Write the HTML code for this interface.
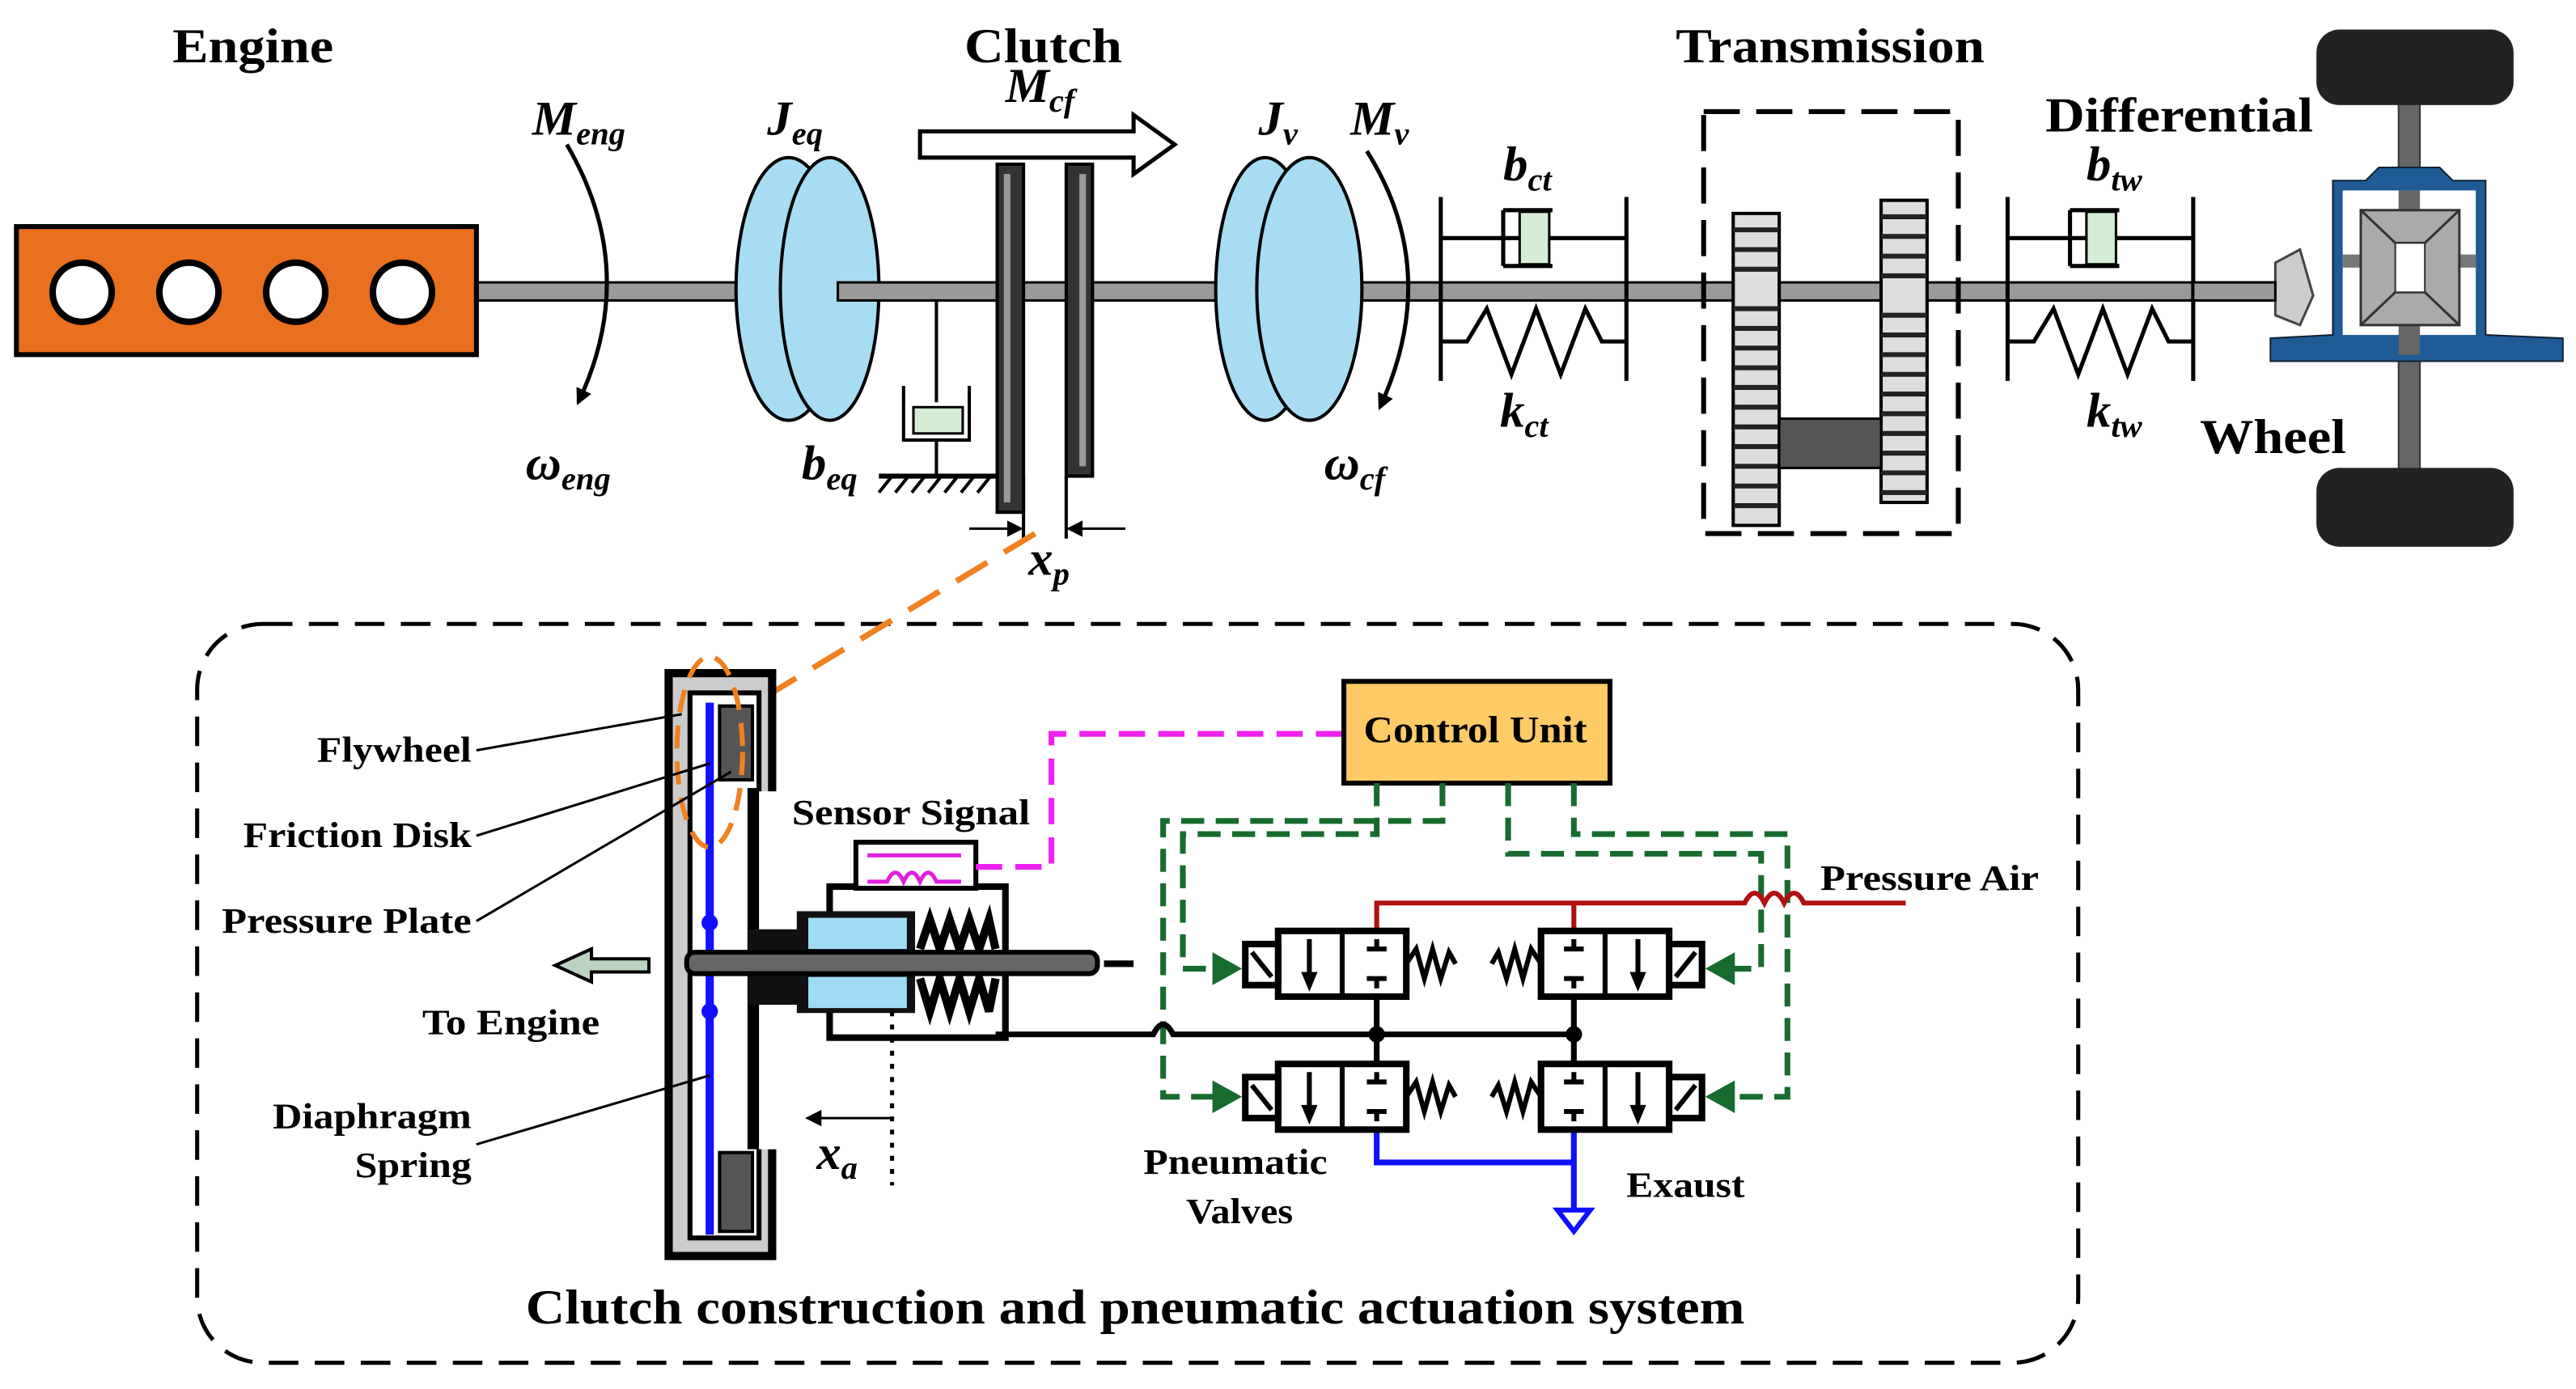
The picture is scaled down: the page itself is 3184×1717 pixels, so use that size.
<!DOCTYPE html>
<html><head><meta charset="utf-8"><style>
html,body{margin:0;padding:0;background:#fff}
svg{display:block}
text{font-family:"Liberation Serif",serif;font-weight:bold;fill:#000}
.it{font-style:italic}
</style></head><body>
<svg width="3184" height="1717" viewBox="0 0 1568 846" preserveAspectRatio="none" xmlns="http://www.w3.org/2000/svg">
<defs>
<marker id="ah" markerWidth="10" markerHeight="10" refX="8" refY="5" orient="auto" markerUnits="userSpaceOnUse"><path d="M0,0 L10,5 L0,10 z" fill="#000"/></marker>
<marker id="oh" markerWidth="22" markerHeight="18" refX="20" refY="9" orient="auto" markerUnits="userSpaceOnUse"><path d="M0,0 L22,9 L0,18 z" fill="#f08020"/></marker>
</defs>

<rect x="290" y="172" width="1095" height="11" fill="#9a9a9a" stroke="#000" stroke-width="1.5"/>

<!-- Engine -->
<text x="105" y="38" font-size="30" textLength="98" lengthAdjust="spacingAndGlyphs">Engine</text>
<rect x="10" y="138" width="280" height="78" fill="#e8701e" stroke="#000" stroke-width="3"/>
<g fill="#fff" stroke="#000" stroke-width="4">
<circle cx="50" cy="178" r="18"/><circle cx="115" cy="178" r="18"/><circle cx="180" cy="178" r="18"/><circle cx="245" cy="178" r="18"/></g>

<path d="M345,88 Q390,165 352,245" fill="none" stroke="#000" stroke-width="2.5" marker-end="url(#ah)"/>
<text x="324" y="82" font-size="30" class="it">M<tspan font-size="20" dy="6">eng</tspan></text>
<text x="320" y="292" font-size="30" class="it">ω<tspan font-size="20" dy="6">eng</tspan></text>

<ellipse cx="480" cy="176" rx="32" ry="80" fill="#a8dcf2" stroke="#000" stroke-width="2"/>
<ellipse cx="505" cy="176" rx="30" ry="80" fill="#a8dcf2" stroke="#000" stroke-width="2"/>
<rect x="510" y="172" width="100" height="11" fill="#9a9a9a" stroke="#000" stroke-width="1.5"/>
<text x="467" y="82" font-size="30" class="it">J<tspan font-size="20" dy="6">eq</tspan></text>
<line x1="570" y1="183" x2="570" y2="245" stroke="#000" stroke-width="2"/>
<rect x="556" y="248" width="30" height="16" fill="#d4ecd4" stroke="#000" stroke-width="1.5"/>
<path d="M550,235 L550,268 L590,268 L590,235" fill="none" stroke="#000" stroke-width="2"/>
<line x1="570" y1="268" x2="570" y2="290" stroke="#000" stroke-width="2"/>
<line x1="535" y1="290" x2="610" y2="290" stroke="#000" stroke-width="3"/>
<path d="M535,300 L543,290 M545,300 L553,290 M555,300 L563,290 M565,300 L573,290 M575,300 L583,290 M585,300 L593,290 M595,300 L603,290" stroke="#000" stroke-width="2"/>
<text x="488" y="292" font-size="30" class="it">b<tspan font-size="20" dy="6">eq</tspan></text>

<text x="587" y="38" font-size="30" textLength="96" lengthAdjust="spacingAndGlyphs">Clutch</text>
<path d="M560,80 L690,80 L690,70 L715,88 L690,106 L690,96 L560,96 z" fill="#fff" stroke="#000" stroke-width="2.5"/>
<text x="612" y="62" font-size="30" class="it">M<tspan font-size="20" dy="6">cf</tspan></text>
<rect x="607" y="100" width="16" height="212" fill="#333" stroke="#000" stroke-width="2"/>
<rect x="611" y="106" width="4" height="200" fill="#999"/>
<rect x="649" y="100" width="16" height="190" fill="#333" stroke="#000" stroke-width="2"/>
<rect x="657" y="106" width="4" height="178" fill="#999"/>
<line x1="623" y1="290" x2="623" y2="328" stroke="#000" stroke-width="2"/>
<line x1="649" y1="290" x2="649" y2="328" stroke="#000" stroke-width="2"/>
<line x1="590" y1="322" x2="621" y2="322" stroke="#000" stroke-width="1.5" marker-end="url(#ah)"/>
<line x1="685" y1="322" x2="651" y2="322" stroke="#000" stroke-width="1.5" marker-end="url(#ah)"/>
<text x="626" y="350" font-size="30" class="it">x<tspan font-size="20" dy="6">p</tspan></text>

<ellipse cx="770" cy="176" rx="30" ry="80" fill="#a8dcf2" stroke="#000" stroke-width="2"/>
<ellipse cx="797" cy="176" rx="32" ry="80" fill="#a8dcf2" stroke="#000" stroke-width="2"/>
<text x="766" y="82" font-size="30" class="it">J<tspan font-size="20" dy="6">v</tspan></text>
<path d="M832,92 Q878,165 840,248" fill="none" stroke="#000" stroke-width="2.5" marker-end="url(#ah)"/>
<text x="822" y="82" font-size="30" class="it">M<tspan font-size="20" dy="6">v</tspan></text>
<text x="806" y="292" font-size="30" class="it">ω<tspan font-size="20" dy="6">cf</tspan></text>

<g stroke="#000" stroke-width="2.5" fill="none">
<line x1="877" y1="120" x2="877" y2="232"/><line x1="990" y1="120" x2="990" y2="232"/>
<path d="M877,145 L925,145 M915,128 L915,162 M915,128 L945,128 M915,162 L945,162 M940,145 L990,145"/>
<path d="M877,208 L893,208 L905,188 L920,228 L935,188 L950,228 L965,188 L975,208 L990,208"/>
<line x1="1222" y1="120" x2="1222" y2="232"/><line x1="1335" y1="120" x2="1335" y2="232"/>
<path d="M1222,145 L1270,145 M1260,128 L1260,162 M1260,128 L1290,128 M1260,162 L1290,162 M1285,145 L1335,145"/>
<path d="M1222,208 L1238,208 L1250,188 L1265,228 L1280,188 L1295,228 L1310,188 L1320,208 L1335,208"/>
</g>
<rect x="925" y="129" width="18" height="32" fill="#d4ecd4" stroke="#000" stroke-width="1.5"/>
<rect x="1270" y="129" width="18" height="32" fill="#d4ecd4" stroke="#000" stroke-width="1.5"/>
<text x="915" y="110" font-size="30" class="it">b<tspan font-size="20" dy="6">ct</tspan></text>
<text x="913" y="260" font-size="30" class="it">k<tspan font-size="20" dy="6">ct</tspan></text>
<text x="1270" y="110" font-size="30" class="it">b<tspan font-size="20" dy="6">tw</tspan></text>
<text x="1270" y="260" font-size="30" class="it">k<tspan font-size="20" dy="6">tw</tspan></text>

<text x="1020" y="38" font-size="30" textLength="188" lengthAdjust="spacingAndGlyphs">Transmission</text>
<rect x="1037" y="68" width="155" height="257" fill="none" stroke="#000" stroke-width="3" stroke-dasharray="22,10"/>
<rect x="1055" y="130" width="28" height="190" fill="#ddd" stroke="#000" stroke-width="2"/>
<rect x="1145" y="122" width="28" height="184" fill="#ddd" stroke="#000" stroke-width="2"/>
<g stroke="#222" stroke-width="3">
<path d="M1055,140 h28 M1055,152 h28 M1055,164 h28 M1055,188 h28 M1055,200 h28 M1055,212 h28 M1055,224 h28 M1055,236 h28 M1055,248 h28 M1055,260 h28 M1055,272 h28 M1055,284 h28 M1055,296 h28 M1055,308 h28"/>
<path d="M1145,132 h28 M1145,144 h28 M1145,156 h28 M1145,168 h28 M1145,192 h28 M1145,204 h28 M1145,216 h28 M1145,228 h28 M1145,240 h28 M1145,252 h28 M1145,264 h28 M1145,276 h28 M1145,288 h28 M1145,300 h28"/>
</g>
<rect x="1083" y="255" width="62" height="30" fill="#555" stroke="#000" stroke-width="1.5"/>

<text x="1245" y="80" font-size="30" textLength="163" lengthAdjust="spacingAndGlyphs">Differential</text>
<text x="1339" y="276" font-size="30" textLength="89" lengthAdjust="spacingAndGlyphs">Wheel</text>
<rect x="1460" y="55" width="13" height="235" fill="#666" stroke="#333" stroke-width="1"/>
<rect x="1410" y="18" width="120" height="46" rx="14" fill="#222"/>
<rect x="1410" y="285" width="120" height="48" rx="14" fill="#222"/>
<path d="M1420,204 L1420,110 L1440,110 L1448,102 L1485,102 L1493,110 L1513,110 L1513,204 L1560,206 L1560,220 L1382,220 L1382,206 z" fill="#1f5b95" stroke="#123" stroke-width="1"/>
<rect x="1426" y="116" width="81" height="88" fill="#fff"/>
<rect x="1460" y="116" width="13" height="100" fill="#666"/>
<rect x="1426" y="155" width="81" height="8" fill="#777"/>
<rect x="1437" y="128" width="60" height="70" fill="#aaa" stroke="#333" stroke-width="1.5"/>
<path d="M1437,128 L1458,148 L1476,148 L1497,128 M1437,198 L1458,178 L1476,178 L1497,198" fill="none" stroke="#333" stroke-width="1.5"/>
<rect x="1458" y="148" width="18" height="30" fill="#fff" stroke="#333"/>
<path d="M1385,160 L1400,152 L1408,180 L1400,198 L1385,192 z" fill="#ccc" stroke="#444" stroke-width="1.5"/>
<rect x="1335" y="172" width="50" height="11" fill="#9a9a9a" stroke="#000" stroke-width="1.5"/>

<rect x="120" y="380" width="1145" height="450" rx="40" fill="none" stroke="#000" stroke-width="2.5" stroke-dasharray="18,10"/>
<text x="320" y="806" font-size="30" textLength="742" lengthAdjust="spacingAndGlyphs">Clutch construction and pneumatic actuation system</text>

<line x1="630" y1="325" x2="440" y2="440" stroke="#f08020" stroke-width="3.5" stroke-dasharray="22,12" marker-end="url(#oh)"/>

<rect x="407" y="410" width="63" height="355" fill="#ccc" stroke="#000" stroke-width="5"/>
<rect x="420" y="422" width="42" height="332" fill="#fff" stroke="#000" stroke-width="3"/>
<rect x="462" y="482" width="12" height="218" fill="#fff"/>
<line x1="458" y1="480" x2="458" y2="700" stroke="#000" stroke-width="6"/>
<rect x="438" y="430" width="20" height="45" fill="#555" stroke="#000" stroke-width="2"/>
<rect x="438" y="702" width="20" height="48" fill="#555" stroke="#000" stroke-width="2"/>
<line x1="432" y1="428" x2="432" y2="752" stroke="#1010ff" stroke-width="5"/>
<circle cx="432" cy="562" r="5" fill="#1010ff"/><circle cx="432" cy="616" r="5" fill="#1010ff"/>
<ellipse cx="432" cy="458" rx="20" ry="58" fill="none" stroke="#f08020" stroke-width="3" stroke-dasharray="14,8"/>

<rect x="455" y="566" width="32" height="46" fill="#111"/>
<rect x="505" y="540" width="107" height="92" fill="#fff" stroke="#000" stroke-width="4"/>
<rect x="485" y="555" width="72" height="62" fill="#111"/>
<rect x="492" y="559" width="60" height="19" fill="#9fdcf4"/>
<rect x="492" y="595" width="60" height="19" fill="#9fdcf4"/>
<path d="M560,578 L566,560 L572,578 L578,560 L584,578 L590,560 L596,578 L602,560 L606,578 M560,596 L566,616 L572,596 L578,616 L584,596 L590,616 L596,596 L602,616 L606,596" fill="none" stroke="#000" stroke-width="5"/>
<rect x="418" y="580" width="250" height="13" rx="5" fill="#666" stroke="#000" stroke-width="3"/>
<line x1="672" y1="587" x2="690" y2="587" stroke="#000" stroke-width="4"/>
<rect x="521" y="513" width="73" height="28" fill="#fff" stroke="#000" stroke-width="3"/>
<path d="M528,521 L585,521 M528,537 L540,537 Q545,526 550,537 Q555,526 560,537 Q565,526 570,537 L585,537" fill="none" stroke="#e020e0" stroke-width="2.5"/>
<path d="M594,528 L640,528 L640,447 L818,447" fill="none" stroke="#f020f0" stroke-width="3.5" stroke-dasharray="16,8"/>
<text x="482" y="502" font-size="22" textLength="145" lengthAdjust="spacingAndGlyphs">Sensor Signal</text>
<path d="M395,584 L360,584 L360,578 L338,588 L360,598 L360,592 L395,592 z" fill="#bcd3c2" stroke="#000" stroke-width="2"/>
<line x1="543" y1="616" x2="543" y2="722" stroke="#000" stroke-width="2.5" stroke-dasharray="3,5"/>
<line x1="543" y1="681" x2="492" y2="681" stroke="#000" stroke-width="1.5" marker-end="url(#ah)"/>
<text x="497" y="712" font-size="30" class="it">x<tspan font-size="20" dy="6">a</tspan></text>

<g font-size="22">
<text x="193" y="464" textLength="94" lengthAdjust="spacingAndGlyphs">Flywheel</text>
<text x="148" y="516" textLength="139" lengthAdjust="spacingAndGlyphs">Friction Disk</text>
<text x="135" y="568" textLength="152" lengthAdjust="spacingAndGlyphs">Pressure Plate</text>
<text x="257" y="630" textLength="108" lengthAdjust="spacingAndGlyphs">To Engine</text>
<text x="166" y="687" textLength="121" lengthAdjust="spacingAndGlyphs">Diaphragm</text>
<text x="216" y="717" textLength="71" lengthAdjust="spacingAndGlyphs">Spring</text>
</g>
<g stroke="#000" stroke-width="1.5">
<line x1="290" y1="457" x2="415" y2="435"/><line x1="290" y1="509" x2="432" y2="465"/>
<line x1="290" y1="561" x2="445" y2="470"/><line x1="290" y1="697" x2="432" y2="655"/>
</g>

<rect x="818" y="415" width="162" height="62" fill="#fecb66" stroke="#000" stroke-width="3"/>
<text x="830" y="452" font-size="23" textLength="136" lengthAdjust="spacingAndGlyphs">Control Unit</text>
<g fill="none" stroke="#176b2e" stroke-width="3.5" stroke-dasharray="14,7">
<path d="M838,477 L838,508 L720,508 L720,590 L752,590"/>
<path d="M878,477 L878,500 L708,500 L708,668 L752,668"/>
<path d="M918,477 L918,520 L1072,520 L1072,590 L1042,590"/>
<path d="M958,477 L958,508 L1088,508 L1088,668 L1042,668"/>
</g>
<g fill="#176b2e"><path d="M738,580 L756,590 L738,600z"/><path d="M738,658 L756,668 L738,678z"/><path d="M1056,580 L1038,590 L1056,600z"/><path d="M1056,658 L1038,668 L1056,678z"/></g>
<path d="M838,567 L838,550 L1062,550 Q1068,538 1074,550 Q1080,538 1086,550 Q1092,538 1098,550 L1160,550 M958,550 L958,567" fill="none" stroke="#b01010" stroke-width="3"/>
<text x="1108" y="542" font-size="22" textLength="133" lengthAdjust="spacingAndGlyphs">Pressure Air</text>
<path d="M606,630 L702,630 Q708,618 714,630 L958,630 M838,607 L838,648 M958,607 L958,648" fill="none" stroke="#000" stroke-width="3.5"/>
<circle cx="838" cy="630" r="5"/><circle cx="958" cy="630" r="5"/>
<path d="M838,688 L838,708 L958,708 M958,688 L958,737" fill="none" stroke="#1010ff" stroke-width="3.5"/>
<path d="M948,737 L968,737 L958,750 z" fill="#fff" stroke="#1010ff" stroke-width="3"/>
<g fill="#fff" stroke="#000" stroke-width="4">
<rect x="778" y="567" width="78" height="40"/><rect x="938" y="567" width="78" height="40"/>
<rect x="778" y="648" width="78" height="40"/><rect x="938" y="648" width="78" height="40"/>
<rect x="758" y="575" width="20" height="25"/><rect x="1016" y="575" width="20" height="25"/>
<rect x="758" y="656" width="20" height="25"/><rect x="1016" y="656" width="20" height="25"/>
</g>
<g fill="none" stroke="#000" stroke-width="3">
<path d="M817,567 V607 M977,567 V607 M817,648 V688 M977,648 V688"/>
<path d="M797,572 V600 M997,572 V600 M797,653 V681 M997,653 V681"/>
<path d="M838,572 V578 M832,578 H844 M838,602 V596 M832,596 H844"/>
<path d="M958,572 V578 M952,578 H964 M958,602 V596 M952,596 H964"/>
<path d="M838,653 V659 M832,659 H844 M838,683 V677 M832,677 H844"/>
<path d="M958,653 V659 M952,659 H964 M958,683 V677 M952,677 H964"/>
<path d="M856,587 L862,578 L867,596 L872,578 L877,596 L882,580 L886,587"/>
<path d="M938,587 L932,578 L927,596 L922,578 L917,596 L912,580 L908,587"/>
<path d="M856,668 L862,659 L867,677 L872,659 L877,677 L882,661 L886,668"/>
<path d="M938,668 L932,659 L927,677 L922,659 L917,677 L912,661 L908,668"/>
<path d="M762,580 L774,595 M1032,580 L1020,595 M762,661 L774,676 M1032,661 L1020,676"/>
</g>
<g fill="#000"><path d="M792,592 L802,592 L797,604z"/><path d="M992,592 L1002,592 L997,604z"/><path d="M792,673 L802,673 L797,685z"/><path d="M992,673 L1002,673 L997,685z"/></g>
<text x="696" y="715" font-size="22" textLength="112" lengthAdjust="spacingAndGlyphs">Pneumatic</text>
<text x="722" y="745" font-size="22" textLength="65" lengthAdjust="spacingAndGlyphs">Valves</text>
<text x="990" y="729" font-size="22" textLength="72" lengthAdjust="spacingAndGlyphs">Exaust</text>
</svg>
</body></html>
